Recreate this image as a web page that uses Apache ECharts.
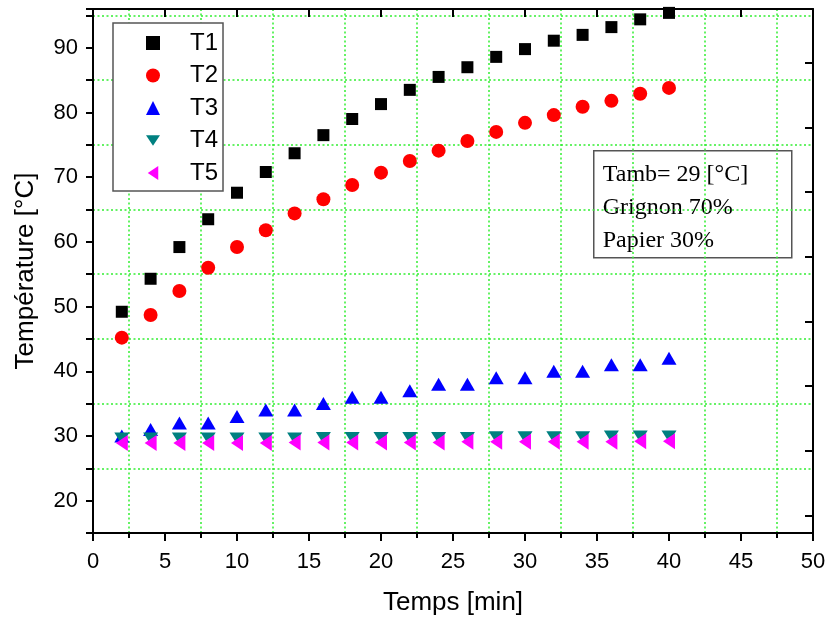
<!DOCTYPE html>
<html>
<head>
<meta charset="utf-8">
<title>Température</title>
<script src="https://cdn.jsdelivr.net/npm/echarts@6/dist/echarts.min.js"></script>
<style>
    html, body { margin: 0; padding: 0; background: #fff; }
    #chart { width: 830px; height: 621px; }
</style>
</head>
<body>
<div id="chart"></div>
<script>
// temps en minutes
var temps = [2, 4, 6, 8, 10, 12, 14, 16, 18, 20, 22, 24, 26, 28, 30, 32, 34, 36, 38, 40];
// températures
var t1 = [49.2, 54.3, 59.2, 63.5, 67.6, 70.8, 73.7, 76.5, 79.0, 81.3, 83.5, 85.5, 87.0, 88.6, 89.8, 91.1, 92.0, 93.2, 94.4, 95.4];
var t2 = [45.2, 48.7, 52.4, 56.0, 59.2, 61.8, 64.4, 66.6, 68.8, 70.7, 72.5, 74.1, 75.6, 77.0, 78.4, 79.6, 80.9, 81.8, 82.9, 83.8];
var t3 = [30, 31, 32, 32, 33, 34, 34, 35, 36, 36, 37, 38, 38, 39, 39, 40, 40, 41, 41, 42];
var t4 = [29.6, 29.6, 29.6, 29.6, 29.6, 29.6, 29.6, 29.7, 29.7, 29.7, 29.7, 29.7, 29.7, 29.8, 29.8, 29.8, 29.8, 29.9, 29.9, 29.9];
var t5 = [28.9, 28.9, 28.9, 28.9, 28.9, 28.9, 29.0, 29.0, 29.0, 29.0, 29.0, 29.0, 29.1, 29.1, 29.1, 29.1, 29.1, 29.1, 29.2, 29.2];
var noms = ["T1", "T2", "T3", "T4", "T5"];
var infos = ["Tamb= 29 [°C]", "Grignon 70%", "Papier 30%"];

// associe les x et les y
function paires(ys) {
    var res = [];
    for (var i = 0; i < temps.length; i++) {
        res.push([temps[i], ys[i]]);
    }
    return res;
}

var police = "Liberation Sans, Arial, sans-serif";
var grille = { show: true, lineStyle: { color: "#33ee33", type: [2, 2.5], width: 1.5 } };
var trait = { show: true, lineStyle: { color: "#000", width: 2 } };
var tick = { color: "#000", width: 2 };
// triangles vers le bas / vers la gauche
var triBas = "path://M0,0L16,0L8,12Z";
var triGauche = "path://M12,0L12,16L0,8Z";

var chart = echarts.init(document.getElementById("chart"), null, { renderer: "canvas" });

var option = {
    backgroundColor: "#fff",
    animation: false,
    grid: { left: 93, right: 17, top: 9, bottom: 88 },
    legend: {
        data: noms,
        orient: "vertical",
        left: 113,
        top: 23,
        backgroundColor: "#fff",
        borderColor: "#555",
        borderWidth: 1.5,
        borderRadius: 0,
        padding: [8, 5, 6, 33],
        itemGap: 8.5,
        itemWidth: 14,
        itemHeight: 14,
        textStyle: { fontSize: 24, color: "#000", fontFamily: police, padding: [0, 0, 0, 25] }
    },
    xAxis: [{
        type: "value", min: 0, max: 50, interval: 5,
        position: "bottom",
        axisLine: trait,
        axisTick: { show: true, length: 8, lineStyle: tick },
        minorTick: { show: true, splitNumber: 2, length: 5, lineStyle: tick },
        minorSplitLine: grille,
        splitLine: { show: false },
        axisLabel: { fontSize: 22, color: "#000", fontFamily: police, margin: 18 },
        name: "Temps [min]",
        nameLocation: "middle",
        nameGap: 57,
        nameTextStyle: { fontSize: 26, color: "#000", fontFamily: police }
    }, {
        type: "value", min: 0, max: 50, interval: 5,
        position: "top",
        axisLine: trait,
        axisTick: { show: true, inside: true, length: 8, lineStyle: tick },
        splitLine: { show: false },
        axisLabel: { show: false }
    }],
    yAxis: [{
        type: "value", min: 15, max: 96, interval: 5,
        position: "left",
        axisLine: trait,
        axisTick: { show: true, length: 7, lineStyle: tick },
        splitLine: { show: false },
        axisLabel: {
            fontSize: 22, color: "#000", fontFamily: police, margin: 15,
            formatter: function (v) { return v % 10 === 0 ? v : ""; }
        },
        name: "Température [°C]",
        nameLocation: "middle",
        nameGap: 54,
        nameTextStyle: { fontSize: 26, color: "#000", fontFamily: police }
    }, {
        // axe caché : seulement pour la grille pointillée (25, 35, ... 95)
        type: "value", min: 15, max: 96, interval: 10,
        position: "left",
        axisLine: { show: false },
        axisTick: { show: false },
        axisLabel: { show: false },
        splitLine: grille
    }, {
        // axe de droite : graduations décalées comme sur l'original
        type: "value", min: 17.3, max: 98.3, splitNumber: 8,
        position: "right",
        axisLine: trait,
        axisTick: { show: true, inside: true, length: 8, lineStyle: tick },
        axisLabel: { show: false },
        splitLine: { show: false }
    }],
    series: [
        { name: "T1", type: "scatter", data: paires(t1), symbol: "rect", symbolSize: 12,
          itemStyle: { color: "#000", opacity: 1 } },
        { name: "T2", type: "scatter", data: paires(t2), symbol: "circle", symbolSize: 14,
          itemStyle: { color: "#ff0000", opacity: 1 } },
        { name: "T3", type: "scatter", data: paires(t3), symbol: "triangle", symbolSize: [15, 13],
          itemStyle: { color: "#0000ff", opacity: 1 } },
        { name: "T4", type: "scatter", data: paires(t4), symbol: triBas, symbolSize: [15, 12],
          itemStyle: { color: "#008080", opacity: 1 } },
        { name: "T5", type: "scatter", data: paires(t5), symbol: triGauche, symbolSize: [12, 16],
          itemStyle: { color: "#ff00ff", opacity: 1 } }
    ],
    graphic: [{
        type: "group",
        left: 593,
        top: 150,
        children: [{
            type: "rect",
            shape: { x: 0, y: 0, width: 198, height: 107 },
            style: { fill: "#fff", stroke: "#555", lineWidth: 1.5 }
        }, {
            type: "text",
            left: 9,
            top: 7,
            style: {
                text: infos.join("\n"),
                font: "24px 'Liberation Serif', 'Times New Roman', serif",
                lineHeight: 33,
                fill: "#000"
            }
        }]
    }]
};

chart.setOption(option);
</script>
</body>
</html>
